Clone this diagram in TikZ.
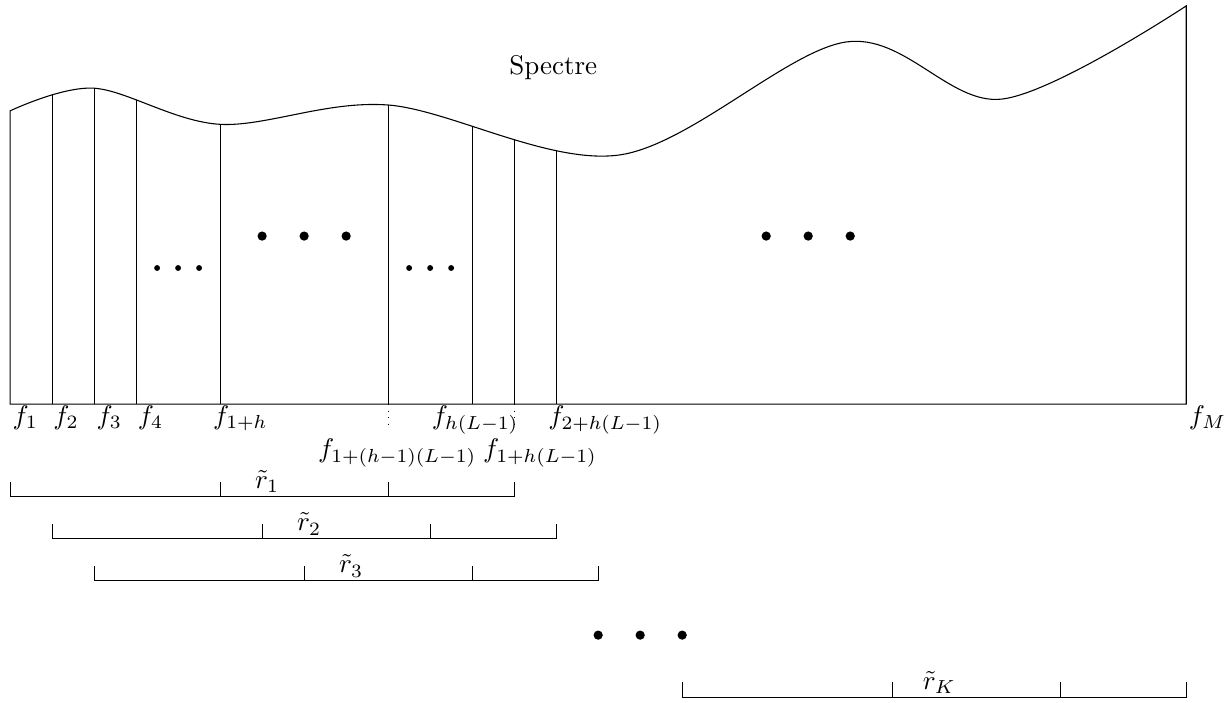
\documentclass[tikz,border=0pt]{standalone}
\usepackage{amsmath}
\usetikzlibrary{positioning}

\begin{document}
\begin{tikzpicture}[x=0.547cm, y=0.547cm,
    flab/.style={anchor=base west, inner sep=0pt},
    rlab/.style={anchor=base, inner sep=0pt},
    bigdot/.style={fill=black},
    tick/.style={line width=0.4pt}]
        \useasboundingbox (-0.24,-7.1) rectangle (28.97,9.62);
        % contour du spectre
        \path[save path=\spectrepath] (28,0) -- (0,0) -- plot[smooth, tension=0.55] coordinates
          {(0,6.98) (2,7.52) (5,6.66) (9,7.12) (14.5,5.93) (19.9,8.62) (23.6,7.26) (28,9.48)}
          -- cycle;
        \begin{scope}
          \path[clip, use path=\spectrepath];
          \foreach \x in {1,2,3,5,9,11,12,13}
            \draw (\x,0) -- (\x,10);
        \end{scope}
        \draw[use path=\spectrepath];
        \node (titre) at (12.93,8.02) {Spectre};
        % frequences
        \node[flab] (f1) at (0.05,-0.48) {$f_1$};
        \node[flab] (f2) at (1.02,-0.48) {$f_2$};
        \node[flab] (f3) at (2.05,-0.48) {$f_3$};
        \node[flab] (f4) at (3.03,-0.48) {$f_4$};
        \node[flab] (f1h) at (4.82,-0.48) {$f_{1+h}$};
        \node[flab] (fhL) at (10.03,-0.48) {$f_{h(L-1)}$};
        \node[flab] (f2hL) at (12.8,-0.48) {$f_{2+h(L-1)}$};
        \node[flab] (fM) at (28.05,-0.48) {$f_M$};
        \node[flab] (f1hmL) at (7.32,-1.27) {$f_{1+(h-1)(L-1)}$};
        \node[flab] (f1hL) at (11.25,-1.27) {$f_{1+h(L-1)}$};
        \draw[dotted] (9,0) -- (9,-0.6);
        \draw[dotted] (12,0) -- (12,-0.6);
        % points de suspension
        \foreach \x in {3.5,4,4.5,9.5,10,10.5}
          \fill (\x,3.24) circle (0.07);
        \foreach \x/\y in {6/4, 7/4, 8/4, 18/4, 19/4, 20/4, 14/-5.5, 15/-5.5, 16/-5.5}
          \fill[bigdot] (\x,\y) circle (0.11);
        % fenetres r
        \foreach \a/\b/\c/\d/\y/\n in {0/5/9/12/-2.21/1, 1/6/10/13/-3.21/2,
            2/7/11/14/-4.21/3, 16/21/25/28/-6.98/K} {
          \draw[tick] (\a,\y+0.36) -- (\a,\y) -- (\d,\y) -- (\d,\y+0.36);
          \draw[tick] (\b,\y) -- (\b,\y+0.36) (\c,\y) -- (\c,\y+0.36);
          \node[rlab] (r\n) at (\b+1.12,\y+0.19) {$\tilde{r}_{\n}$};
        }
\end{tikzpicture}
\end{document}
